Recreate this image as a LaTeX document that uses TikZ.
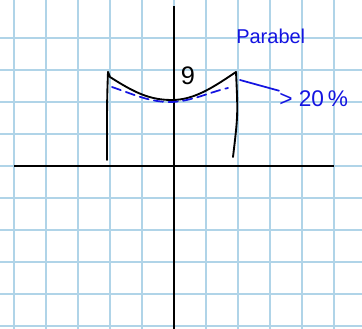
\documentclass[tikz,border=0pt]{standalone}
\usepackage{fontspec}
\setmainfont{Liberation Sans}
\definecolor{gridblue}{RGB}{176,212,232}
\definecolor{ink}{RGB}{20,20,225}
\begin{document}
\begin{tikzpicture}[x=0.75pt,y=-0.75pt,
  gridline/.style={draw=gridblue,line width=1.5pt},
  axis/.style={draw=black,line width=1.5pt},
  pen/.style={draw=black,line width=1.4pt,line cap=round,line join=round},
  bluepen/.style={draw=ink,line width=1.3pt,line cap=round},
  handtext/.style={inner sep=0pt,font=\fontsize{#1}{#1}\selectfont}]
\fill[white] (0,0) rectangle (362,329);
\useasboundingbox (0,0) rectangle (362,329);
% grid
\foreach \i in {0,...,10} {\draw[gridline] ({14+32*\i},0) -- ({14+32*\i},329);}
\foreach \j in {0,...,9} {\draw[gridline] (0,{38+32*\j}) -- (362,{38+32*\j});}
% axes
\draw[axis] (14,166) -- (334,166);
\draw[axis] (174,6) -- (174,329);
% named points
\coordinate (lt) at (108,72);
\coordinate (rt) at (236,72);
\coordinate (lb) at (107,160);
\coordinate (rb) at (233,157);
\coordinate (c1) at (240,80);
% walls
\draw[pen] (lt) .. controls (107,100) .. (lb);
\draw[pen] (rt) .. controls (238,115) .. (rb);
% parabola
\draw[pen] (lt) -- (110,77) .. controls (135,93) and (150,100) .. (172,100)
  .. controls (195,100) and (215,86) .. (rt);
% dashed blue
\draw[bluepen,dash pattern=on 7pt off 4pt] (112,87) .. controls (135,95) and (150,102) .. (170,102)
  .. controls (190,102) and (210,92) .. (228,88);
% labels
\node[handtext=19pt] (nine) at (188,76) {9};
\node[handtext=15pt,text=ink,anchor=west] (parabel) at (236,36) {Parabel};
\node[handtext=17pt,text=ink,anchor=west] (pct) at (279,99) {> 20\,\%};
\draw[bluepen] (c1) -- (pct.north west);
\end{tikzpicture}
\end{document}
